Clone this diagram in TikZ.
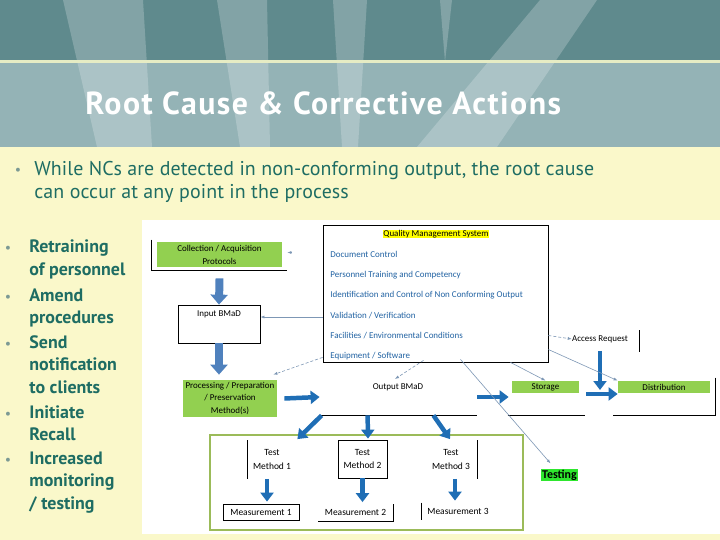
\documentclass[tikz,border=0pt]{standalone}
\usepackage{fontspec}
\setmainfont{PT Sans}
\newfontfamily\diagfont{Carlito}
\usetikzlibrary{arrows.meta,calc,positioning}
\definecolor{headdark}{HTML}{5F8A8D}
\definecolor{headlight}{HTML}{94B3B6}
\definecolor{bandline}{HTML}{E6ECC4}
\definecolor{cream}{HTML}{FAF8CA}
\definecolor{slidetext}{HTML}{1E6D63}
\definecolor{dotgray}{HTML}{7C9A94}
\definecolor{boxgreen}{HTML}{92D050}
\definecolor{framegreen}{HTML}{9BBB59}
\definecolor{qmsblue}{HTML}{2263A3}
\definecolor{fatblue}{HTML}{4F81BD}
\definecolor{darkblue}{HTML}{1F6EB5}
\definecolor{linkgray}{HTML}{7D97B5}
\definecolor{hiyellow}{HTML}{FFFF00}
\definecolor{hilime}{HTML}{2EE62E}

\begin{document}
\begin{tikzpicture}[x=1bp,y=-1bp,line width=0.8pt,
  slide/.style={text=slidetext,inner sep=0,font=\fontsize{20}{24}\selectfont\addfontfeature{LetterSpace=0.5}},
  action/.style={text=slidetext,inner sep=0,font=\bfseries\fontsize{18}{22}\selectfont},
  dot/.style={text=dotgray,inner sep=0,font=\fontsize{14}{16}\selectfont},
  small/.style={inner sep=0,font=\diagfont\fontsize{9}{13}\selectfont,align=center},
  box/.style={small,draw},
  greenbox/.style={small,fill=boxgreen},
  fat/.style={-{Triangle[length=10pt,width=17pt]},line width=8pt,draw=fatblue},
  blue/.style={-{Triangle[length=9pt,width=13pt]},line width=4.5pt,draw=darkblue},
  link/.style={-{Latex[length=4pt,width=3pt]},line width=0.6pt,draw=linkgray},
  dlink/.style={link,dash pattern=on 3pt off 2pt}]
\useasboundingbox (0,0) rectangle (720,540);
% ---------- header ----------
\fill[headdark] (0,0) rectangle (720,62);
\fill[headlight] (0,62) rectangle (720,147);
\begin{scope}[fill=white,opacity=0.22]
  \fill (63,0) -- (143,0) -- (152,147) -- (97,147) -- cycle;
  \fill (217,0) -- (267,0) -- (270,147) -- (240,147) -- cycle;
  \fill (333,0) -- (367,0) -- (358,147) -- (342,147) -- cycle;
  \fill (440,0) -- (452,0) -- (445,62) -- cycle;
  \fill (540,0) -- (597,0) -- (497,147) -- (417,147) -- cycle;
\end{scope}
\fill[bandline] (0,60.5) rectangle (720,63);
\node[text=white,inner sep=0,anchor=base west,font=\bfseries\fontsize{32}{38}\selectfont\addfontfeature{LetterSpace=4.5}] (title) at (85,115) {Root Cause \& Corrective Actions};
% ---------- body ----------
\fill[cream] (0,147) rectangle (720,540);
\fill[white] (142,220) rectangle (720,534);
\node[dot,anchor=base] (introdot) at (18,175) {•};
\node[slide,anchor=base west] (intro1) at (34,176) {While NCs are detected in non-conforming output, the root cause};
\node[slide,anchor=base west] (intro2) at (34,199) {can occur at any point in the process};
\foreach \y/\t [count=\i] in {253/Retraining,275.5/of personnel,301/Amend,323.5/procedures,348/Send,370.5/notification,393/to clients,418/Initiate,440.5/Recall,464/Increased,486.5/monitoring,509/{/ testing}}
  \node[action,anchor=base west] (act\i) at (29,\y) {\t};
\foreach \y [count=\i] in {253,301,348,418,464}
  \node[dot,anchor=base] (actdot\i) at (8,\y) {•};
% ---------- process chain ----------
\node[greenbox,minimum width=125bp,minimum height=25bp] (collect) at (219.5,254.5) {Collection / Acquisition\\Protocols};
\node[box,minimum width=82bp,minimum height=38bp] (input) at (219,324) {};
\node[small] (inputtxt) at (219,314) {Input BMaD};
\node[greenbox,minimum width=94bp,minimum height=37bp] (proc) at (230,398.5) {Processing / Preparation\\/ Preservation\\Method(s)};
\node[minimum width=157bp,minimum height=36bp,inner sep=0] (output) at (398.5,397) {};
\node[small] (outtxt) at (398,387) {Output BMaD};
\node[greenbox,minimum width=67bp,minimum height=12bp] (storage) at (545.5,387) {Storage};
\node[greenbox,minimum width=92bp,minimum height=12bp] (distrib) at (664,387) {Distribution};
\node[small] (access) at (600,339) {Access Request};
\node[fill=hilime,inner sep=1bp,font=\diagfont\bfseries\fontsize{12}{14}\selectfont] (testing) at (559.5,475) {Testing};
% ---------- quality management system ----------
\node[box,minimum width=225bp,minimum height=137bp] (qms) at (435.5,293.5) {};
\node[small,fill=hiyellow,inner sep=0.5bp] (qmstitle) at (436,234) {Quality Management System};
\foreach \t [count=\i] in {Document Control,Personnel Training and Competency,Identification and Control of Non Conforming Output,Validation / Verification,Facilities / Environmental Conditions,Equipment / Software}
  \node[small,anchor=west,text=qmsblue] (qms\i) at (330,{234+20.4*\i}) {\t};
% ---------- testing ----------
\node[draw=framegreen,line width=1.6pt,minimum width=313bp,minimum height=95bp] (frame) at (366.5,482.5) {};
\node[small,minimum width=48bp,minimum height=38bp,font=\diagfont\fontsize{9.5}{14}\selectfont] (tm1) at (272,459.5) {Test\\Method 1};
\node[box,minimum width=49bp,minimum height=38bp,font=\diagfont\fontsize{9.5}{14}\selectfont] (tm2) at (362.5,459) {Test\\Method 2};
\node[small,minimum width=52bp,minimum height=38bp,font=\diagfont\fontsize{9.5}{14}\selectfont] (tm3) at (451,459.5) {Test\\Method 3};
\node[box,minimum width=76bp,minimum height=16bp,font=\diagfont\fontsize{9.5}{11}\selectfont] (meas1) at (261,512) {Measurement 1};
\node[small,minimum width=75bp,minimum height=16bp,font=\diagfont\fontsize{9.5}{11}\selectfont] (meas2) at (355.5,512.5) {Measurement 2};
\node[small,minimum width=72bp,minimum height=17bp,font=\diagfont\fontsize{9.5}{11}\selectfont] (meas3) at (458,511.5) {Measurement 3};
% ---------- open box edges ----------
\draw ($(collect.north west)+(-5,-2)$) |- ($(collect.south east)+(5,3)$);
\draw (output.south west) -- (output.south east);
\draw ($(storage.south west)+(-4,22)$) -- ($(storage.south east)+(6,22)$);
\draw ($(distrib.north east)+(5,-3)$) |- ($(distrib.south west)+(-5,22)$);
\draw ($(access.east)+(11,-9)$) -- ++(0,22);
\draw (tm1.north west) -- (tm1.south west);
\draw (tm3.north east) -- (tm3.south east);
\draw (meas2.north east) |- (meas2.south west);
\draw (meas3.north west) -- (meas3.south west);
% ---------- block arrows ----------
\draw[fat] ([yshift=-11pt]collect.south) -- (input.north);
\draw[fat,shorten >=5pt] (input.south) -- (input.south |- proc.north);
\draw[blue] ([xshift=7pt]proc.east) -- (output.west);
\draw[blue,shorten >=3pt] (output.east) -- (output.east -| storage.west);
\draw[blue] ([xshift=7pt,yshift=-7pt]storage.east) -- ([yshift=-7pt]distrib.west);
\draw[blue] ([yshift=-8pt]access.south) -- ([yshift=-3pt]access.south |- distrib.center);
\draw[blue] ($(output.south west)+(2,0)$) -- ($(tm1.north east)+(1,-1)$);
\draw[blue] ($(output.south west)+(48,0)$) -- ($(tm2.north)+(5.5,-1)$);
\draw[blue] ($(output.south east)+(-44,0)$) -- ($(tm3.north)+(-1,-1)$);
\draw[blue,shorten >=2pt] ([xshift=-5pt]tm1.south) -- ([xshift=-5pt]tm1.south |- meas1.north);
\draw[blue,shorten >=2pt] (tm2.south) -- (tm2.south |- meas2.north);
\draw[blue,shorten >=2pt] ([xshift=4pt]tm3.south) -- ([xshift=4pt]tm3.south |- meas3.north);
% ---------- qms links ----------
\coordinate (qmsstub) at ($(collect.east)+(9,-2)$);
\draw[dlink] (qmsstub) -- ($(collect.east)+(5,-2)$);
\draw[link] ([yshift=7pt]input.east -| qms.west) -- ([yshift=7pt]input.east);
\draw[dlink] ($(qms.south west)+(0,-5)$) -- ($(proc.north east)+(-4,-5)$);
\draw[dlink] ($(qms.south)+(-12,-2)$) -- ($(outtxt.north)+(-3,-4)$);
\draw[link] ($(qms.south)+(25,-3)$) -- ($(testing.north)+(-9,-5)$);
\draw[link] ($(qms.south)+(75,0)$) -- (storage.north);
\draw[dlink] ($(qms.east)+(0,42)$) -- (access.west);
\draw[link] ($(qms.east)+(0,56)$) -- (distrib.north west);
\end{tikzpicture}
\end{document}
